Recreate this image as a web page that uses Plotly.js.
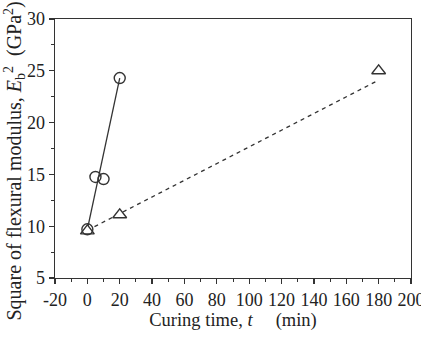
<!DOCTYPE html>
<html>
<head>
<meta charset="utf-8">
<script src="https://cdn.plot.ly/plotly-3.0.1.min.js"></script>
<style>
  html, body { margin: 0; padding: 0; background: #fff; }
  #chart { width: 421px; height: 338px; }
</style>
</head>
<body>
<div id="chart"></div>
<script>
// Measured points: circles and triangles
const circleTime = [0, 5, 10, 20];
const circleE2 = [9.7, 14.75, 14.55, 24.3];
const triTime = [0, 20, 180];
const triE2 = [9.55, 11.1, 25.0];

// Trend lines drawn through each series
const solidTime = [0, 20];
const solidE2 = [9.7, 24.3];
const dashTime = [0, 180];
const dashE2 = [9.6, 24.1];

// Tick labels (hyphen minus as printed)
const xTickVals = [-20, 0, 20, 40, 60, 80, 100, 120, 140, 160, 180, 200];
const xTickText = ['-20', '0', '20', '40', '60', '80', '100', '120', '140', '160', '180', '200'];
const yTickVals = [5, 10, 15, 20, 25, 30];
const yTickText = ['5', '10', '15', '20', '25', '30'];

const ink = '#333333';
const serif = '"Liberation Serif", "Times New Roman", Times, serif';

const traces = [
  { x: solidTime, y: solidE2, mode: 'lines', line: { color: ink, width: 1.3 }, hoverinfo: 'skip' },
  { x: dashTime, y: dashE2, mode: 'lines', line: { color: ink, width: 1.3, dash: '4px,4px' }, hoverinfo: 'skip' },
  { x: triTime, y: triE2, mode: 'markers',
    marker: { symbol: 'triangle-up', size: 12, color: '#ffffff', line: { color: ink, width: 1.4 } } },
  { x: circleTime, y: circleE2, mode: 'markers',
    marker: { symbol: 'circle', size: 11, color: 'rgba(255,255,255,0)', line: { color: ink, width: 1.4 } } }
];

const axisCommon = {
  showgrid: false, zeroline: false,
  showline: true, linecolor: ink, linewidth: 1.3, mirror: true,
  ticks: 'outside', ticklen: 5, tickwidth: 1.2, tickcolor: ink,
  ticklabeloverflow: 'allow',
  tickfont: { family: serif, size: 18, color: '#222' }
};

const layout = {
  width: 421, height: 338,
  margin: { l: 55, r: 10, t: 19, b: 60 },
  paper_bgcolor: '#fff', plot_bgcolor: '#fff',
  showlegend: false,
  xaxis: Object.assign({}, axisCommon, {
    range: [-20, 200], tickmode: 'array', tickvals: xTickVals, ticktext: xTickText,
    minor: { dtick: 10, ticks: 'outside', ticklen: 3, tickcolor: ink, tickwidth: 1 },
    title: { text: 'Curing time, <i>t</i>\u00A0\u00A0\u00A0\u00A0\u00A0(min)',
             font: { family: serif, size: 18.5, color: '#222' }, standoff: 4 }
  }),
  yaxis: Object.assign({}, axisCommon, {
    range: [5, 30], tickmode: 'array', tickvals: yTickVals, ticktext: yTickText,
    minor: { dtick: 2.5, ticks: 'outside', ticklen: 3, tickcolor: ink, tickwidth: 1 }
  }),
  annotations: [{
    // vertical axis title, placed beside the tick labels
    text: 'Square of flexural modulus, <i>E</i><sub>b</sub><sup>2</sup>\u00A0\u00A0(GPa<sup>2</sup>)',
    font: { family: serif, size: 20, color: '#222' },
    textangle: -90, showarrow: false,
    xref: 'paper', yref: 'paper',
    x: (14 - 55) / 356, y: (278 - 323) / 259,
    xanchor: 'center', yanchor: 'bottom'
  }]
};

Plotly.newPlot('chart', traces, layout, { staticPlot: true, displayModeBar: false });
</script>
</body>
</html>
